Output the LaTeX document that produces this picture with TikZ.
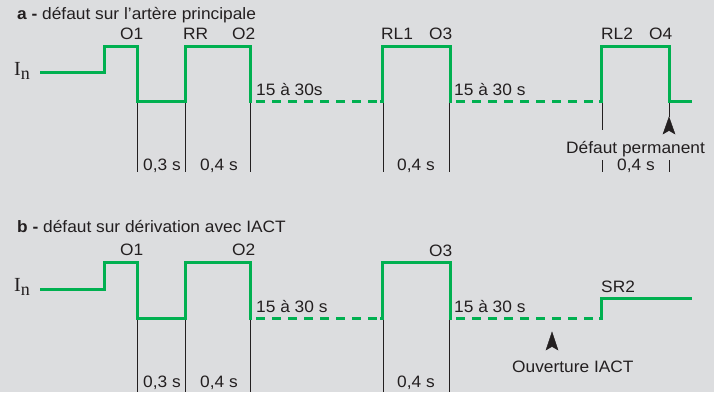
\documentclass[tikz,border=0pt]{standalone}
\usepackage{fontspec}
\setmainfont{Liberation Sans}[FakeStretch=1.05]
\newfontfamily\serifI{Liberation Serif}
\usetikzlibrary{arrows.meta}
\definecolor{bg}{RGB}{220,221,223}
\definecolor{wave}{RGB}{0,176,80}
\definecolor{ink}{RGB}{35,31,32}
\tikzset{
  lbl/.style={anchor=base west,inner sep=0pt,text=ink,font=\fontsize{16.5}{19}\selectfont},
  sig/.style={wave,line width=3pt,line join=miter,line cap=butt},
  sigdash/.style={wave,line width=3pt,dash pattern=on 9pt off 7pt,dash phase=-6pt},
  tick/.style={ink,line width=0.9pt},
  headfill/.style={fill=ink,draw=ink,line width=0.4pt,line join=miter}
}
\begin{document}
\begin{tikzpicture}[x=1pt,y=-1pt]
\fill[bg] (0,0) rectangle (714,392);
\useasboundingbox (0,0) rectangle (714,392);
% ---------------- part a ----------------
\node[lbl] (ta) at (17,19) {\textbf{a -} défaut sur l’artère principale};
\node[anchor=base west,inner sep=0pt,text=ink] (ina) at (14,75) {\fontsize{20}{22}\serifI I\raisebox{-4pt}{\fontsize{18}{18}\selectfont n}};
\node[lbl] (o1a) at (120,39) {O1};
\node[lbl] (rra) at (183,39) {RR};
\node[lbl] (o2a) at (232,39) {O2};
\node[lbl] (rl1a) at (381,39) {RL1};
\node[lbl] (o3a) at (429,39) {O3};
\node[lbl] (rl2a) at (601,39) {RL2};
\node[lbl] (o4a) at (649,39) {O4};
\node[lbl] (d1a) at (256,95) {15 à 30s};
\node[lbl] (d2a) at (454,95) {15 à 30 s};
\node[lbl] (t1a) at (143,170) {0,3 s};
\node[lbl] (t2a) at (200,170) {0,4 s};
\node[lbl] (t3a) at (397,170) {0,4 s};
\node[lbl] (dpa) at (566,153) {Défaut permanent};
\node[lbl] (t4a) at (617,170) {0,4 s};
% thin lines a
\coordinate (a1t) at (137,101); \coordinate (a1b) at (137,172);
\coordinate (a2t) at (185,101); \coordinate (a2b) at (185,172);
\coordinate (a3t) at (250,101); \coordinate (a3b) at (250,172);
\coordinate (a4t) at (383,101); \coordinate (a4b) at (383,172);
\coordinate (a5t) at (449,101); \coordinate (a5b) at (449,172);
\coordinate (a6t) at (602,101); \coordinate (a6b) at (602,130);
\draw[tick] (a1t) -- (a1b);
\draw[tick] (a2t) -- (a2b);
\draw[tick] (a3t) -- (a3b);
\draw[tick] (a4t) -- (a4b);
\draw[tick] (a5t) -- (a5b);
\draw[tick] (a6t) -- (a6b);
\draw[tick] (602,160) -- (602,172);
\draw[tick] (669,160) -- (669,172);
\coordinate (arA) at (669,117);
\draw[tick] (669,101) -- (arA);
\filldraw[headfill] (arA) -- ++(-6,17) -- ++(6,-3.5) -- ++(6,3.5) -- cycle;
% waveform a
\draw[sig] (40,72) -- (104,72) -- (104,46) -- (137,46) -- (137,101) -- (185,101) -- (185,46) -- (250,46) -- (250,101) -- (252,101);
\draw[sigdash] (250,101) -- (382,101);
\draw[sig] (380,101) -- (382,101) -- (382,46) -- (450,46) -- (450,101) -- (452,101);
\draw[sigdash] (450,101) -- (601,101);
\draw[sig] (599,101) -- (601,101) -- (601,46) -- (669,46) -- (669,101) -- (692,101);
% ---------------- part b ----------------
\node[lbl] (tb) at (17,232) {\textbf{b -} défaut sur dérivation avec IACT};
\node[anchor=base west,inner sep=0pt,text=ink] (inb) at (14,291) {\fontsize{20}{22}\serifI I\raisebox{-4pt}{\fontsize{18}{18}\selectfont n}};
\node[lbl] (o1b) at (120,255) {O1};
\node[lbl] (o2b) at (232,255) {O2};
\node[lbl] (o3b) at (429,256) {O3};
\node[lbl] (sr2b) at (601,292) {SR2};
\node[lbl] (d1b) at (256,312) {15 à 30 s};
\node[lbl] (d2b) at (454,312) {15 à 30 s};
\node[lbl] (oub) at (512,372) {Ouverture IACT};
\node[lbl] (t1b) at (143,387) {0,3 s};
\node[lbl] (t2b) at (200,387) {0,4 s};
\node[lbl] (t3b) at (397,387) {0,4 s};
% thin lines b
\coordinate (b1t) at (137,318); \coordinate (b1b) at (137,392);
\coordinate (b2t) at (185,318); \coordinate (b2b) at (185,392);
\coordinate (b3t) at (250,318); \coordinate (b3b) at (250,392);
\coordinate (b4t) at (383,318); \coordinate (b4b) at (383,392);
\coordinate (b5t) at (449,318); \coordinate (b5b) at (449,392);
\draw[tick] (b1t) -- (b1b);
\draw[tick] (b2t) -- (b2b);
\draw[tick] (b3t) -- (b3b);
\draw[tick] (b4t) -- (b4b);
\draw[tick] (b5t) -- (b5b);
\coordinate (arB) at (552,332);
\filldraw[headfill] (arB) -- ++(-6,18) -- ++(6,-3.5) -- ++(6,3.5) -- cycle;
% waveform b
\draw[sig] (40,289) -- (104,289) -- (104,262) -- (137,262) -- (137,318) -- (185,318) -- (185,262) -- (250,262) -- (250,318) -- (252,318);
\draw[sigdash] (250,318) -- (382,318);
\draw[sig] (380,318) -- (382,318) -- (382,262) -- (450,262) -- (450,318) -- (452,318);
\draw[sigdash] (450,318) -- (601,318);
\draw[sig] (599,318) -- (601,318) -- (601,298) -- (692,298);
\end{tikzpicture}
\end{document}
